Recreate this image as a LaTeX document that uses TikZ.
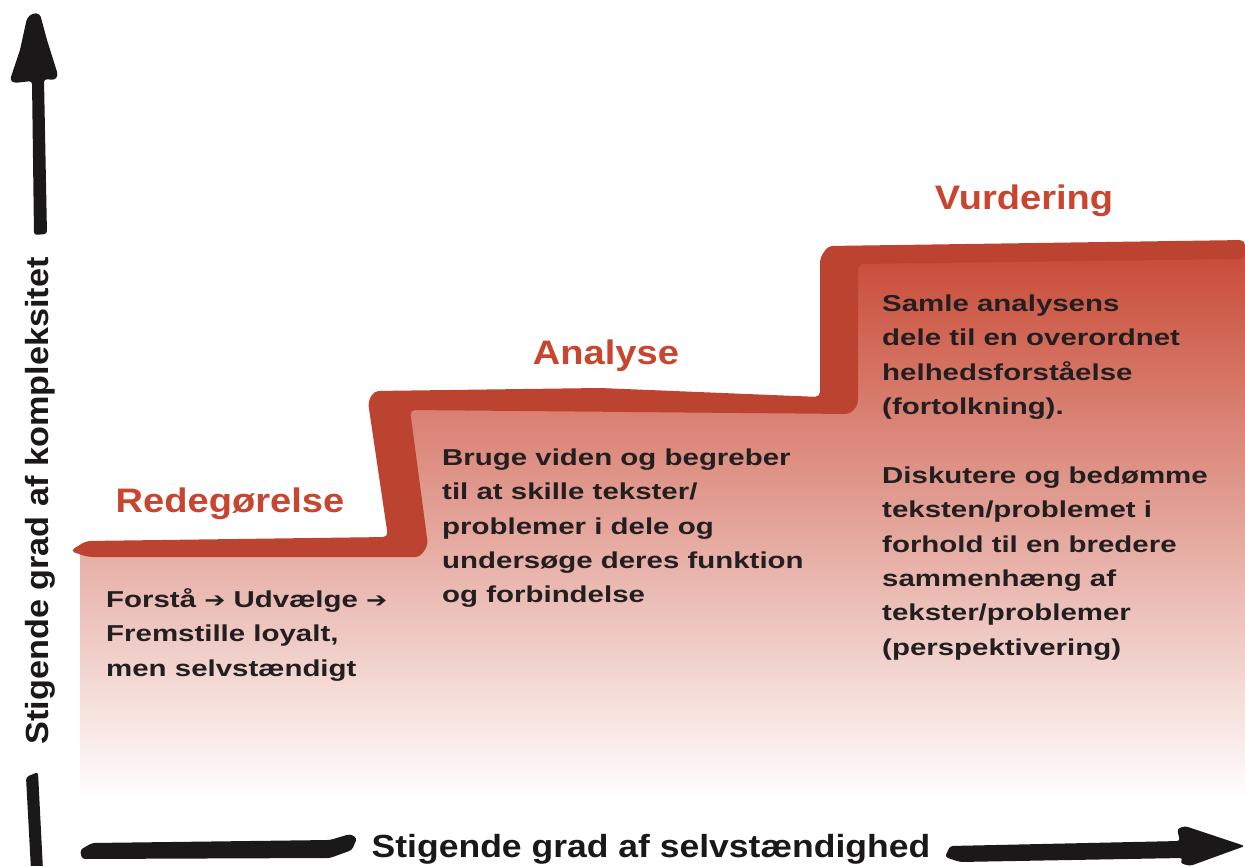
\documentclass[tikz,border=0pt]{standalone}
\usepackage{fontspec}
\setmainfont{Liberation Sans}
\newfontfamily\bodyfont[FakeStretch=1.28]{Liberation Sans}
\newfontfamily\headfont[FakeStretch=1.12]{Liberation Sans}
\newfontfamily\axisfont[FakeStretch=1.11]{Liberation Sans}
\newfontfamily\yaxisfont[FakeStretch=1.07]{Liberation Sans}
\newfontfamily\arrowfont[FakeStretch=1.2]{DejaVu Sans}
\newcommand{\tarr}{{\arrowfont\fontsize{21}{24}\selectfont ➔}}
\definecolor{stairred}{HTML}{BD4331}
\definecolor{fillred}{HTML}{C94B37}
\definecolor{fillmid}{HTML}{DE9480}
\definecolor{headred}{HTML}{C8452F}
\definecolor{ink}{HTML}{1B1819}
\definecolor{txt}{HTML}{231F20}
\begin{document}
\begin{tikzpicture}[x=1pt,y=-1pt,
  heading/.style={text=headred,font=\headfont\bfseries\fontsize{34}{40}\selectfont,inner sep=0,anchor=base},
  bodytext/.style={text=txt,font=\bodyfont\bfseries\fontsize{23}{34.4}\selectfont,align=left,inner sep=0,anchor=north west},
  axislabel/.style={text=ink,font=\axisfont\bfseries\fontsize{32}{36}\selectfont,inner sep=0,anchor=base},
  brush/.style={fill=stairred,draw=none,rounded corners=5pt},
  inkshape/.style={fill=ink,draw=none,rounded corners=3pt}]
\useasboundingbox (0,0) rectangle (1245,866);
% gradient fill under the stairs
\shade[top color=fillred,middle color=fillmid,bottom color=white]
  (80,550) -- (395,550) -- (395,400) -- (830,400) -- (830,252) -- (1245,252) -- (1245,800) -- (80,800) -- cycle;
% red brush staircase
\fill[brush] (70,551) -- (86,541) -- (388,537) -- (368,402) -- (374,391) -- (600,388) -- (820,397)
  -- (820,258) -- (828,246) -- (1245,240) -- (1245,259) -- (858,264) -- (858,405) -- (850,414)
  -- (410,410) -- (428,545) -- (420,557) -- (88,557) -- cycle;
% headings
\node[heading] (vur) at (1024,210) {Vurdering};
\node[heading] (ana) at (606,365) {Analyse};
\node[heading] (red) at (230,512) {Redegørelse};
% body texts
\node[bodytext] (t1) at (106,588) {\rule{0pt}{19pt}Forstå \tarr{} Udvælge \tarr\\Fremstille loyalt,\\men selvstændigt};
\node[bodytext] (t2) at (442,446) {\rule{0pt}{19pt}Bruge viden og begreber\\til at skille tekster/\\problemer i dele og\\undersøge deres funktion\\og forbindelse};
\node[bodytext] (t3) at (882,292) {\rule{0pt}{19pt}Samle analysens\\dele til en overordnet\\helhedsforståelse\\(fortolkning).\\[34.4pt]Diskutere og bedømme\\teksten/problemet i\\forhold til en bredere\\sammenhæng af\\tekster/problemer\\(perspektivering)};
% vertical axis arrow
\fill[inkshape] (27,18) -- (33,13) -- (40,14) -- (47,40) -- (58,75) -- (55,80) -- (44,79)
  -- (47,234) -- (34,235) -- (32,81) -- (14,83) -- (10,80) -- (20,50) -- cycle;
\fill[inkshape] (26,777) -- (38,772) -- (43,870) -- (31,870) -- cycle;
\node[axislabel,font=\yaxisfont\bfseries\fontsize{32}{36}\selectfont,rotate=90] (ylab) at (48,501) {Stigende grad af kompleksitet};
% horizontal axis arrow
\fill[inkshape] (82,859) -- (80,850) -- (92,843) -- (330,840) -- (350,834) -- (357,838)
  -- (352,850) -- (330,858) -- cycle;
\fill[inkshape] (945,857) -- (950,846) -- (1180,841) -- (1177,829) -- (1185,826) -- (1245,846)
  -- (1190,866) -- (1180,863) -- (1183,858) -- (960,862) -- cycle;
\node[axislabel] (xlab) at (651,857) {Stigende grad af selvstændighed};
\end{tikzpicture}
\end{document}
